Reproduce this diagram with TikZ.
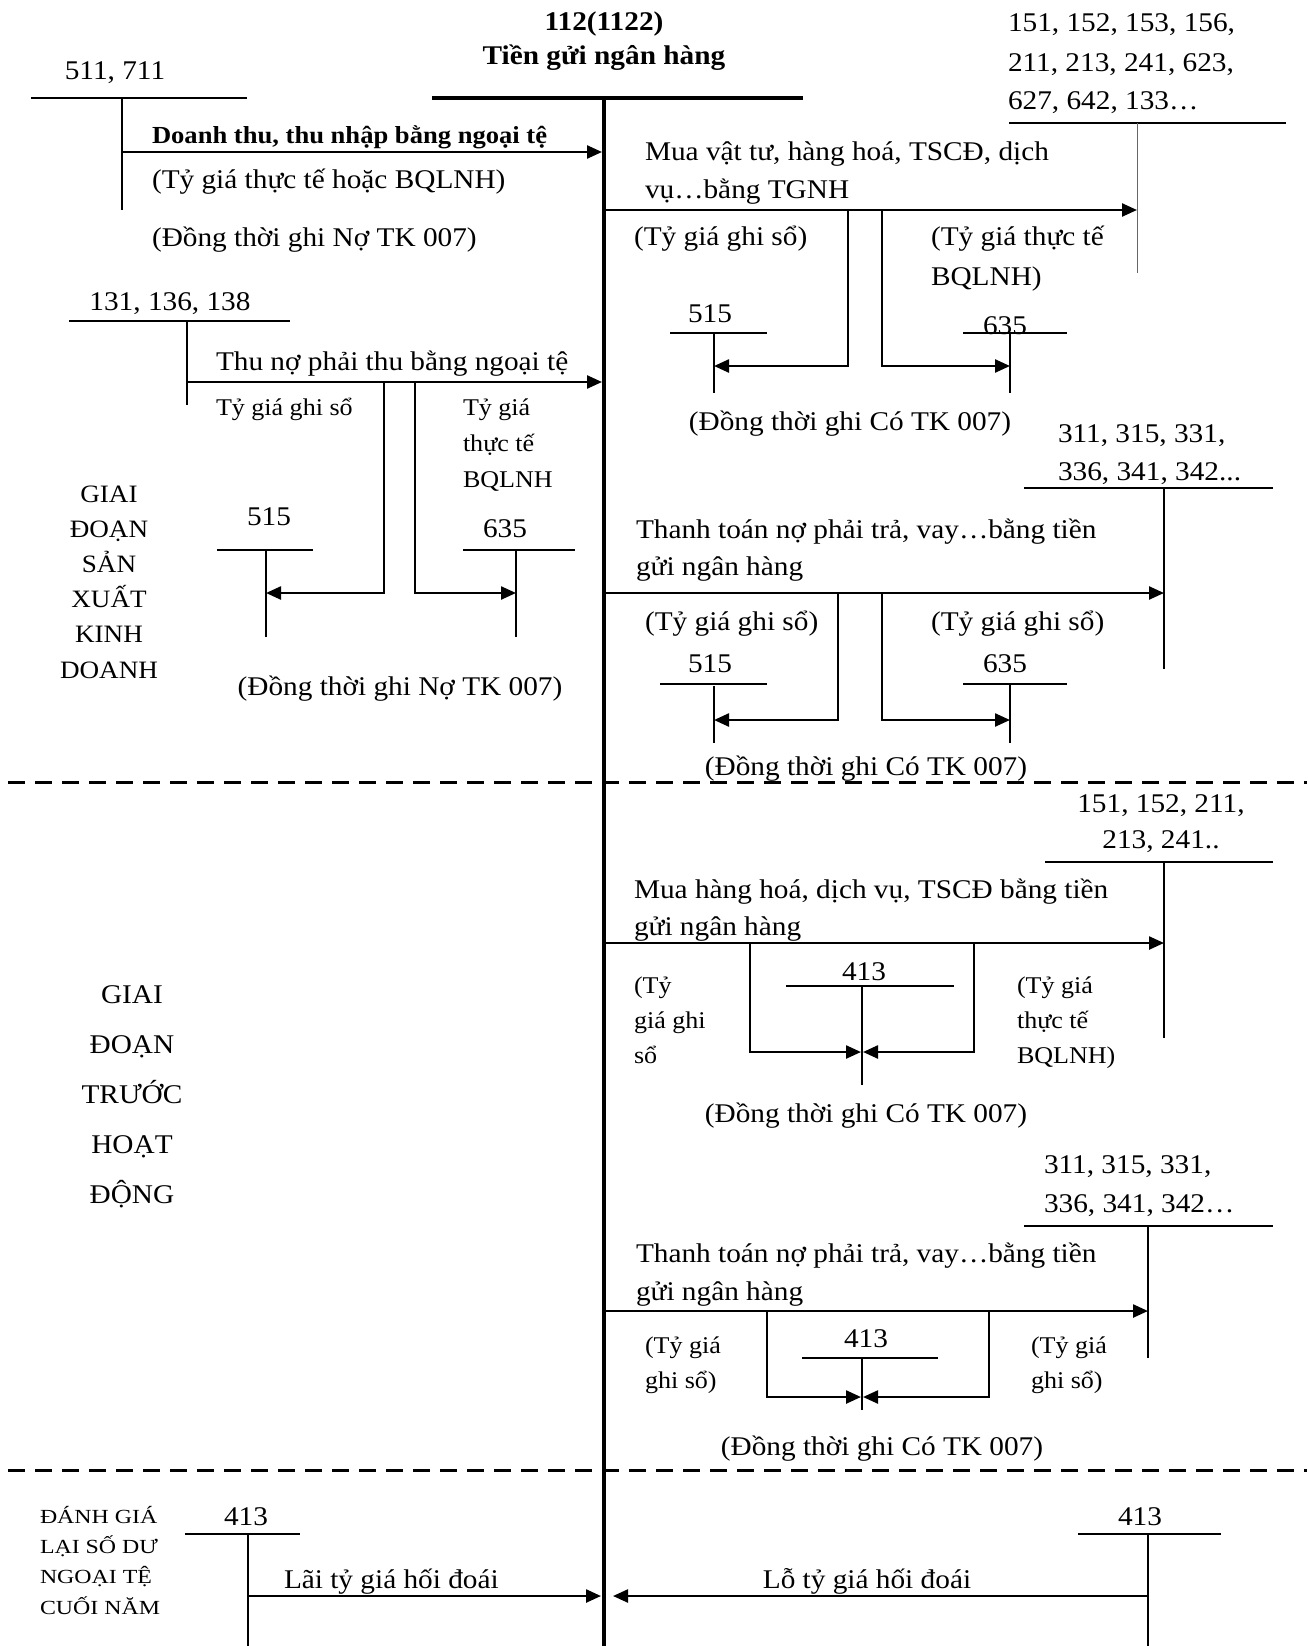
\documentclass[tikz,border=0pt]{standalone}
\usepackage{fontspec}
\usepackage{graphicx}
\setmainfont{Liberation Serif}[FakeStretch=1.085]
\usetikzlibrary{arrows.meta}
\tikzset{
  txt/.style={inner sep=0pt, outer sep=0pt, anchor=base west, font=\fontsize{27}{31}\selectfont},
  ctxt/.style={txt, anchor=base},
  small/.style={font=\fontsize{24}{28}\selectfont},
  bold/.style={font=\fontsize{27}{31}\selectfont\bfseries},
  acct/.style={line width=1.6pt},
  thinacct/.style={line width=1pt, draw=black!60},
  flow/.style={line width=2.4pt, -{Triangle[length=15pt,width=13pt]}},
  branch/.style={line width=2.4pt},
  mainline/.style={line width=4pt},
  divider/.style={line width=3pt, dash pattern=on 17pt off 10pt},
}
\begin{document}
\begin{tikzpicture}[x=1pt,y=-1pt]
\useasboundingbox (0,0) rectangle (1307,1646);

% ---------- main account 112 ----------
\node[ctxt,bold] (title1) at (604,31) {112(1122)};
\node[ctxt,bold] (title2) at (604,65) {Tiền gửi ngân hàng};
\coordinate (tl) at (432,98); \coordinate (tr) at (803,98);
\coordinate (m0) at (604,98); \coordinate (m1) at (604,1646);
\draw[mainline] (tl) -- (tr);
\draw[mainline] (m0) -- (m1);

% ---------- 511, 711 ----------
\node[ctxt] (a511) at (115,80) {511, 711};
\coordinate (a511l) at (31,98); \coordinate (a511r) at (247,98);
\coordinate (a511t) at (122,98); \coordinate (a511b) at (122,210);
\draw[acct] (a511l) -- (a511r);
\draw[acct] (a511t) -- (a511b);
\coordinate (f1s) at (122,152); \coordinate (f1e) at (602,152);
\draw[flow] (f1s) -- (f1e);
\node[txt,font=\fontsize{24.5}{29}\selectfont\bfseries] (l1) at (152,143) {Doanh thu, thu nhập bằng ngoại tệ};
\node[txt] (l1b) at (152,188) {(Tỷ giá thực tế hoặc BQLNH)};
\node[txt] (l1c) at (152,246) {(Đồng thời ghi Nợ TK 007)};

% ---------- 131, 136, 138 ----------
\node[ctxt] (a131) at (170,310) {131, 136, 138};
\coordinate (a131l) at (69,321); \coordinate (a131r) at (290,321);
\coordinate (a131t) at (187,321); \coordinate (a131b) at (187,405);
\draw[acct] (a131l) -- (a131r);
\draw[acct] (a131t) -- (a131b);
\coordinate (f2s) at (187,382); \coordinate (f2e) at (602,382);
\draw[flow] (f2s) -- (f2e);
\node[txt] (l2) at (216,370) {Thu nợ phải thu bằng ngoại tệ};
\node[txt,small] (l2a) at (216,415) {Tỷ giá ghi sổ};
\node[txt,small] (l2b1) at (463,415) {Tỷ giá};
\node[txt,small] (l2b2) at (463,451) {thực tế};
\node[txt,small] (l2b3) at (463,487) {BQLNH};
% 515 / 635 left
\node[ctxt] (b515) at (269,525) {515};
\coordinate (b515l) at (217,550); \coordinate (b515r) at (313,550);
\coordinate (b515t) at (266,550); \coordinate (b515b) at (266,637);
\draw[acct] (b515l) -- (b515r);
\draw[acct] (b515t) -- (b515b);
\node[ctxt] (b635) at (505,537) {635};
\coordinate (b635l) at (463,550); \coordinate (b635r) at (575,550);
\coordinate (b635t) at (516,550); \coordinate (b635b) at (516,637);
\draw[acct] (b635l) -- (b635r);
\draw[acct] (b635t) -- (b635b);
\coordinate (br1) at (384,382); \coordinate (br1e) at (266,593);
\coordinate (br2) at (415,382); \coordinate (br2e) at (516,593);
\draw[branch,-{Triangle[length=15pt,width=13pt]}] (br1) |- (br1e);
\draw[branch,-{Triangle[length=15pt,width=13pt]}] (br2) |- (br2e);
\node[ctxt] (l2c) at (400,695) {(Đồng thời ghi Nợ TK 007)};
% stage label
\begin{scope}[every node/.style={ctxt,font=\fontsize{25}{29}\selectfont}]
\node (s1a) at (109,502) {GIAI};
\node (s1b) at (109,537) {ĐOẠN};
\node (s1c) at (109,572) {SẢN};
\node (s1d) at (109,607) {XUẤT};
\node (s1e) at (109,642) {KINH};
\node (s1f) at (109,678) {DOANH};
\end{scope}

% ---------- 151, 152 ... (purchases) ----------
\node[txt] (a151a) at (1008,32) {151, 152, 153, 156,};
\node[txt] (a151b) at (1008,71) {211, 213, 241, 623,};
\node[txt] (a151c) at (1008,110) {627, 642, 133…};
\coordinate (a151l) at (1009,123); \coordinate (a151r) at (1286,123);
\coordinate (a151t) at (1137,123); \coordinate (a151bt) at (1137,273);
\draw[acct] (a151l) -- (a151r);
\draw[thinacct] (a151t) -- (a151bt);
\coordinate (f3s) at (604,210); \coordinate (f3e) at (1137,210);
\draw[flow] (f3s) -- (f3e);
\node[txt] (l3a) at (645,160) {Mua vật tư, hàng hoá, TSCĐ, dịch};
\node[txt] (l3b) at (645,198) {vụ…bằng TGNH};
\node[txt] (l3c) at (634,245) {(Tỷ giá ghi sổ)};
\node[txt] (l3d) at (931,245) {(Tỷ giá thực tế};
\node[txt] (l3e) at (931,285) {BQLNH)};
\node[ctxt] (c515) at (710,322) {515};
\coordinate (c515l) at (670,333); \coordinate (c515r) at (767,333);
\coordinate (c515t) at (714,333); \coordinate (c515b) at (714,393);
\draw[acct] (c515l) -- (c515r);
\draw[acct] (c515t) -- (c515b);
\node[ctxt] (c635) at (1005,334) {635};
\coordinate (c635l) at (963,333); \coordinate (c635r) at (1067,333);
\coordinate (c635t) at (1010,333); \coordinate (c635b) at (1010,393);
\draw[acct] (c635l) -- (c635r);
\draw[acct] (c635t) -- (c635b);
\coordinate (br3) at (848,210); \coordinate (br3e) at (714,366);
\coordinate (br4) at (882,210); \coordinate (br4e) at (1010,366);
\draw[branch,-{Triangle[length=15pt,width=13pt]}] (br3) |- (br3e);
\draw[branch,-{Triangle[length=15pt,width=13pt]}] (br4) |- (br4e);
\node[ctxt] (l3f) at (850,430) {(Đồng thời ghi Có TK 007)};

% ---------- 311 ... (payments) ----------
\node[txt] (a311a) at (1058,442) {311, 315, 331,};
\node[txt] (a311b) at (1058,480) {336, 341, 342...};
\coordinate (a311l) at (1024,488); \coordinate (a311r) at (1273,488);
\coordinate (a311t) at (1164,488); \coordinate (a311bt) at (1164,669);
\draw[acct] (a311l) -- (a311r);
\draw[acct] (a311t) -- (a311bt);
\coordinate (f4s) at (604,593); \coordinate (f4e) at (1164,593);
\draw[flow] (f4s) -- (f4e);
\node[txt] (l4a) at (636,538) {Thanh toán nợ phải trả, vay…bằng tiền};
\node[txt] (l4b) at (636,575) {gửi ngân hàng};
\node[txt] (l4c) at (645,630) {(Tỷ giá ghi sổ)};
\node[txt] (l4d) at (931,630) {(Tỷ giá ghi sổ)};
\node[ctxt] (d515) at (710,672) {515};
\coordinate (d515l) at (660,684); \coordinate (d515r) at (767,684);
\coordinate (d515t) at (714,686); \coordinate (d515b) at (714,743);
\draw[acct] (d515l) -- (d515r);
\draw[acct] (d515t) -- (d515b);
\node[ctxt] (d635) at (1005,672) {635};
\coordinate (d635l) at (963,684); \coordinate (d635r) at (1067,684);
\coordinate (d635t) at (1010,684); \coordinate (d635b) at (1010,743);
\draw[acct] (d635l) -- (d635r);
\draw[acct] (d635t) -- (d635b);
\coordinate (br5) at (838,593); \coordinate (br5e) at (714,720);
\coordinate (br6) at (882,593); \coordinate (br6e) at (1010,720);
\draw[branch,-{Triangle[length=15pt,width=13pt]}] (br5) |- (br5e);
\draw[branch,-{Triangle[length=15pt,width=13pt]}] (br6) |- (br6e);
\node[ctxt] (l4e) at (866,775) {(Đồng thời ghi Có TK 007)};

% ---------- divider 1 ----------
\coordinate (dv1l) at (8,782); \coordinate (dv1r) at (1307,782);
\draw[divider] (dv1l) -- (dv1r);

% ---------- stage 2 label ----------
\begin{scope}[every node/.style={ctxt,font=\fontsize{27}{31}\selectfont}]
\node (s2a) at (132,1003) {GIAI};
\node (s2b) at (132,1053) {ĐOẠN};
\node (s2c) at (132,1103) {TRƯỚC};
\node (s2d) at (132,1153) {HOẠT};
\node (s2e) at (132,1203) {ĐỘNG};
\end{scope}

% ---------- 151, 152, 211 (pre-operation purchases) ----------
\node[ctxt] (e151a) at (1161,812) {151, 152, 211,};
\node[ctxt] (e151b) at (1161,848) {213, 241..};
\coordinate (e151l) at (1045,862); \coordinate (e151r) at (1273,862);
\coordinate (e151t) at (1164,862); \coordinate (e151bt) at (1164,1038);
\draw[acct] (e151l) -- (e151r);
\draw[acct] (e151t) -- (e151bt);
\coordinate (f5s) at (604,943); \coordinate (f5e) at (1164,943);
\draw[flow] (f5s) -- (f5e);
\node[txt] (l5a) at (634,898) {Mua hàng hoá, dịch vụ, TSCĐ bằng tiền};
\node[txt] (l5b) at (634,935) {gửi ngân hàng};
\node[txt,small] (l5c) at (634,993) {(Tỷ};
\node[txt,small] (l5d) at (634,1028) {giá ghi};
\node[txt,small] (l5e) at (634,1063) {sổ};
\node[txt,small] (l5f) at (1017,993) {(Tỷ giá};
\node[txt,small] (l5g) at (1017,1028) {thực tế};
\node[txt,small] (l5h) at (1017,1063) {BQLNH)};
\node[ctxt] (e413) at (864,980) {413};
\coordinate (e413l) at (786,986); \coordinate (e413r) at (954,986);
\coordinate (e413t) at (862,986); \coordinate (e413b) at (862,1085);
\draw[acct] (e413l) -- (e413r);
\draw[acct] (e413t) -- (e413b);
\coordinate (br7) at (750,943); \coordinate (br7e) at (861,1052);
\coordinate (br8) at (974,943); \coordinate (br8e) at (863,1052);
\draw[branch,-{Triangle[length=15pt,width=13pt]}] (br7) |- (br7e);
\draw[branch,-{Triangle[length=15pt,width=13pt]}] (br8) |- (br8e);
\node[ctxt] (l5i) at (866,1122) {(Đồng thời ghi Có TK 007)};

% ---------- 311 ... (pre-operation payments) ----------
\node[txt] (f311a) at (1044,1173) {311, 315, 331,};
\node[txt] (f311b) at (1044,1212) {336, 341, 342…};
\coordinate (f311l) at (1024,1226); \coordinate (f311r) at (1273,1226);
\coordinate (f311t) at (1148,1226); \coordinate (f311bt) at (1148,1358);
\draw[acct] (f311l) -- (f311r);
\draw[acct] (f311t) -- (f311bt);
\coordinate (f6s) at (604,1311); \coordinate (f6e) at (1148,1311);
\draw[flow] (f6s) -- (f6e);
\node[txt] (l6a) at (636,1262) {Thanh toán nợ phải trả, vay…bằng tiền};
\node[txt] (l6b) at (636,1300) {gửi ngân hàng};
\node[txt,small] (l6c) at (645,1353) {(Tỷ giá};
\node[txt,small] (l6d) at (645,1388) {ghi sổ)};
\node[txt,small] (l6e) at (1031,1353) {(Tỷ giá};
\node[txt,small] (l6f) at (1031,1388) {ghi sổ)};
\node[ctxt] (f413) at (866,1347) {413};
\coordinate (f413l) at (802,1358); \coordinate (f413r) at (938,1358);
\coordinate (f413t) at (862,1358); \coordinate (f413b) at (862,1410);
\draw[acct] (f413l) -- (f413r);
\draw[acct] (f413t) -- (f413b);
\coordinate (br9) at (767,1311); \coordinate (br9e) at (861,1397);
\coordinate (br10) at (989,1311); \coordinate (br10e) at (863,1397);
\draw[branch,-{Triangle[length=15pt,width=13pt]}] (br9) |- (br9e);
\draw[branch,-{Triangle[length=15pt,width=13pt]}] (br10) |- (br10e);
\node[ctxt] (l6g) at (882,1455) {(Đồng thời ghi Có TK 007)};

% ---------- divider 2 ----------
\coordinate (dv2l) at (8,1470); \coordinate (dv2r) at (1307,1470);
\draw[divider] (dv2l) -- (dv2r);

% ---------- year-end revaluation ----------
\begin{scope}[every node/.style={txt,font=\fontsize{20}{24}\selectfont}]
\node (s3a) at (40,1523) {\scalebox{1.1}[1]{ĐÁNH GIÁ}};
\node (s3b) at (40,1553) {\scalebox{1.1}[1]{LẠI SỐ DƯ}};
\node (s3c) at (40,1583) {\scalebox{1.1}[1]{NGOẠI TỆ}};
\node (s3d) at (40,1614) {\scalebox{1.1}[1]{CUỐI NĂM}};
\end{scope}
\node[ctxt] (g413) at (246,1525) {413};
\coordinate (g413l) at (185,1534); \coordinate (g413r) at (300,1534);
\coordinate (g413t) at (248,1534); \coordinate (g413b) at (248,1646);
\draw[acct] (g413l) -- (g413r);
\draw[acct] (g413t) -- (g413b);
\node[ctxt] (h413) at (1140,1525) {413};
\coordinate (h413l) at (1078,1534); \coordinate (h413r) at (1221,1534);
\coordinate (h413t) at (1148,1534); \coordinate (h413b) at (1148,1646);
\draw[acct] (h413l) -- (h413r);
\draw[acct] (h413t) -- (h413b);
\coordinate (f7s) at (248,1596); \coordinate (f7e) at (601,1596);
\draw[flow] (f7s) -- (f7e);
\coordinate (f8s) at (1148,1596); \coordinate (f8e) at (613,1596);
\draw[flow] (f8s) -- (f8e);
\node[txt] (l7) at (284,1588) {Lãi tỷ giá hối đoái};
\node[ctxt] (l8) at (867,1588) {Lỗ tỷ giá hối đoái};
\end{tikzpicture}
\end{document}
